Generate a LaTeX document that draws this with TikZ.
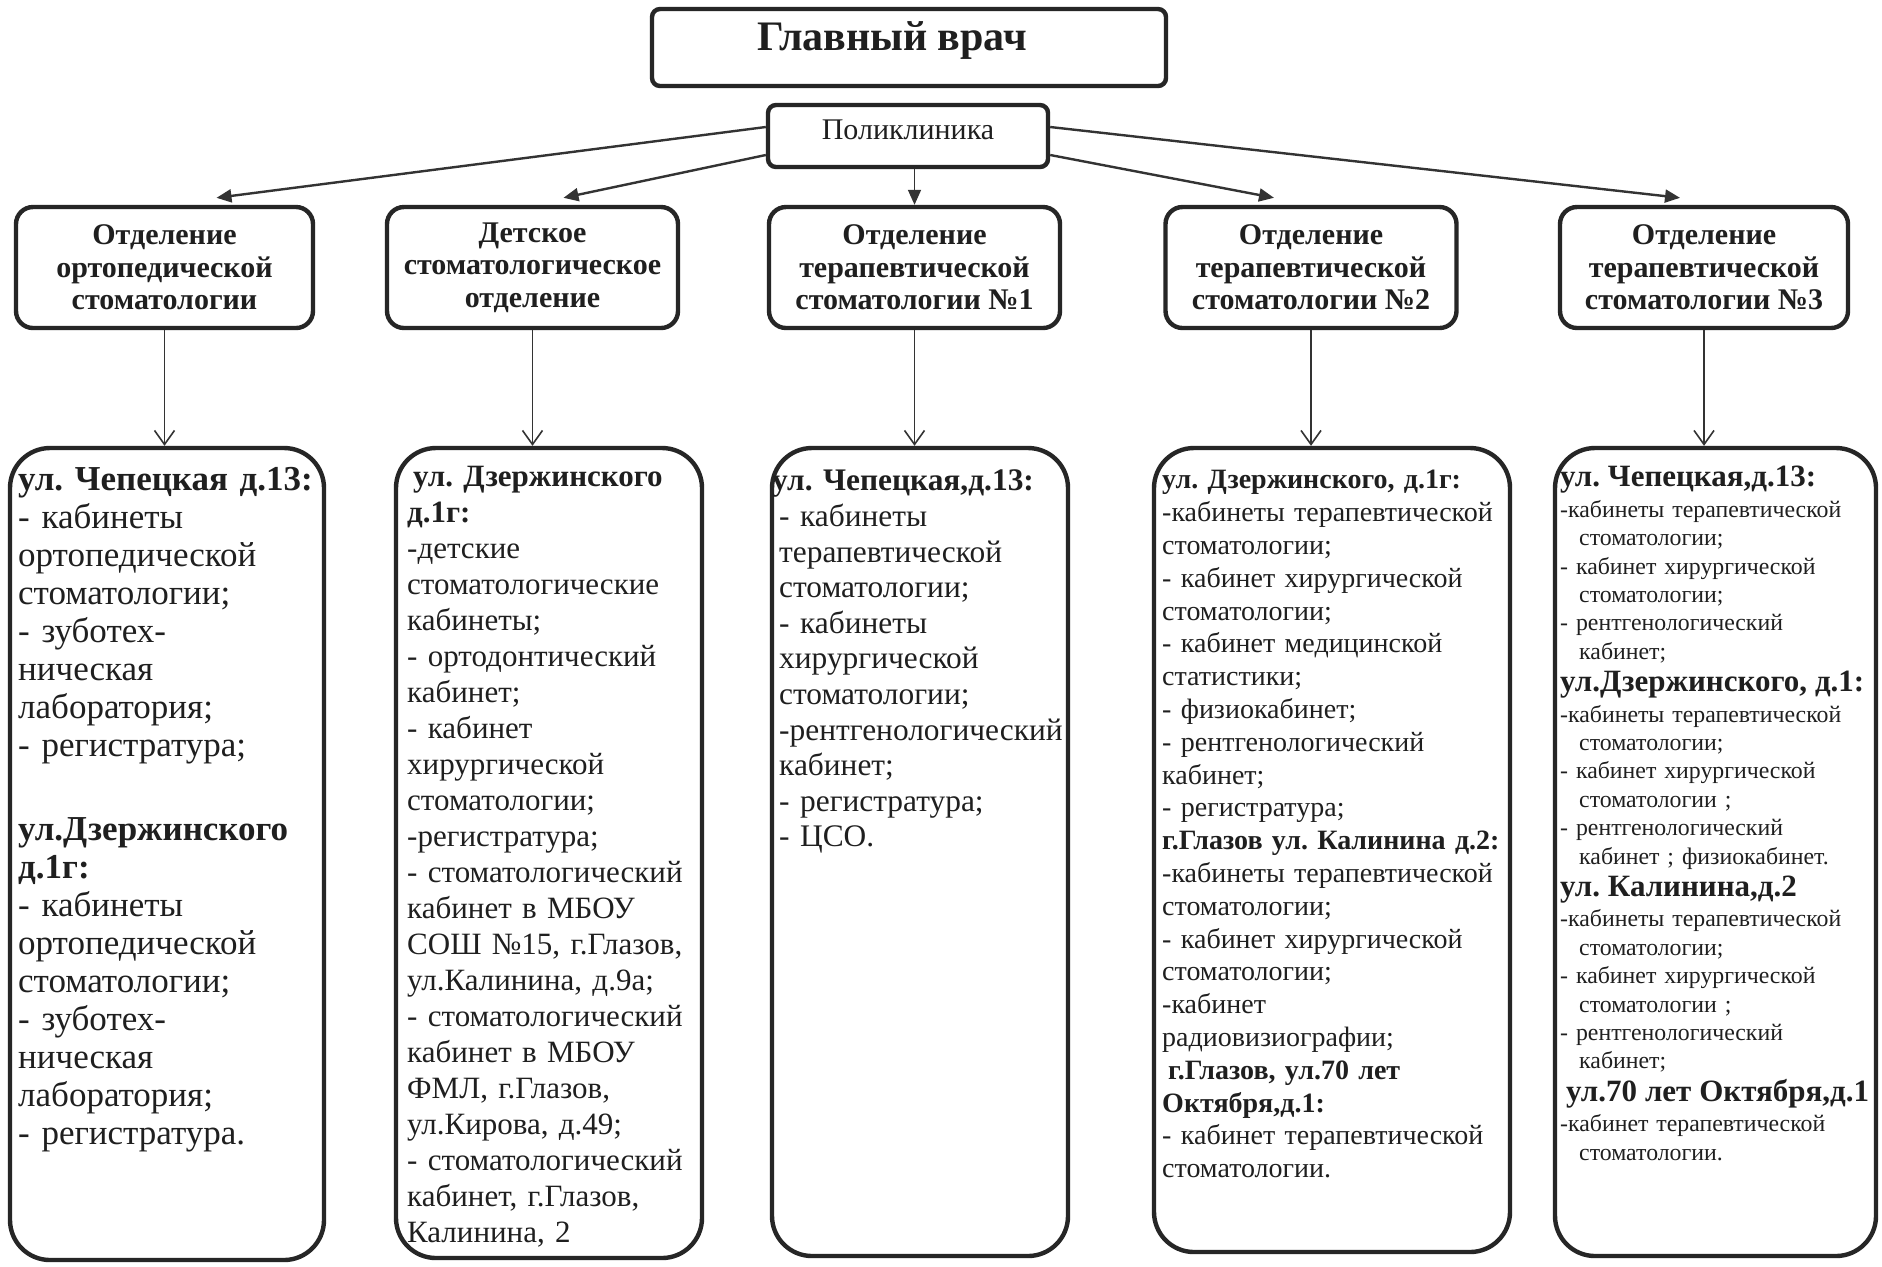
\documentclass[tikz,border=0pt]{standalone}
\usepackage{fontspec}
\setmainfont{Liberation Serif}
\usetikzlibrary{arrows.meta,calc}

\tikzset{
	box/.style={draw=black!85, line width=2.2pt, inner sep=0pt, align=center, text=black!88},
	chief/.style={box, rounded corners=4pt},
	clinic/.style={box, rounded corners=4pt},
	dept/.style={box, rounded corners=8.5pt, minimum width=145.5pt, minimum height=60.5pt, font=\bfseries\fontsize{15}{16.2}\selectfont},
	addr/.style={draw=black!85, line width=2.2pt, rounded corners=20pt, minimum width=#1, inner sep=0pt},
	list/.style={anchor=base west, inner sep=0pt, text width=200pt, align=left, text=black!88},
	uparrow/.style={draw=black!80, line width=1.2pt, -{Triangle[length=7.5pt, width=6.5pt]}},
	downarrow/.style={draw=black!80, line width=0.8pt, -{Straight Barb[length=7pt, width=10pt]}}
}

\begin{document}
\frenchspacing
\begin{tikzpicture}[x=0.5pt, y=-0.5pt]
			%%%%% START %%%%%
			\fill[white] (0,0) rectangle (1882,1266);
			\useasboundingbox (0,0) rectangle (1882,1266);
			
			\node[chief, minimum width=257pt, minimum height=38.5pt] (chief) at (909,47.5) {};
			\node[font=\bfseries\fontsize{21}{24}\selectfont, text=black!88] (chieftxt) at ($(chief.center)+(-17,-7)$) {Главный врач};
			\node[clinic, minimum width=140pt, minimum height=31pt] (poli) at (908,136) {};
			\node[font=\fontsize{15}{18}\selectfont, text=black!88] (politxt) at ($(poli.center)+(0,-6)$) {Поликлиника};
			
			\node[dept, minimum width=148.5pt] (dep1) at (164.5,267.5) {Отделение\\ортопедической\\стоматологии};
			\node[dept] (dep2) at (532.5,267.5) {Детское\\стоматологическое\\отделение};
			\node[dept] (dep3) at (914.5,267.5) {Отделение\\терапевтической\\стоматологии №1};
			\node[dept] (dep4) at (1311,267.5) {Отделение\\терапевтической\\стоматологии №2};
			\node[dept, minimum width=144pt] (dep5) at (1704,267.5) {Отделение\\терапевтической\\стоматологии №3};
			
			\draw[uparrow] ($(poli.west)+(0,-9)$) -- ($(dep1.north)+(52,-7)$);
			\draw[uparrow] ($(poli.west)+(0,19)$) -- ($(dep2.north)+(31,-7)$);
			\draw[uparrow, line width=0.8pt] (dep3.north |- poli.south) -- (dep3.north);
			\draw[uparrow] ($(poli.east)+(0,19)$) -- ($(dep4.north)+(-37,-7)$);
			\draw[uparrow] ($(poli.east)+(0,-9)$) -- ($(dep5.north)+(-24,-7)$);
			
			\node[addr=157pt, minimum height=406pt] (adr1) at (167,854) {};
			\node[addr=153pt, minimum height=405pt] (adr2) at (549,853) {};
			\node[addr=148pt, minimum height=404pt] (adr3) at (920,852) {};
			\node[addr=178pt, minimum height=402pt] (adr4) at (1332,850) {};
			\node[addr=160.5pt, minimum height=404pt] (adr5) at (1715.5,852) {};
			
			\draw[downarrow] (dep1.south) -- (dep1.south |- adr1.north);
			\draw[downarrow] (dep2.south) -- (dep2.south |- adr2.north);
			\draw[downarrow] (dep3.south) -- (dep3.south |- adr3.north);
			\draw[downarrow] (dep4.south) -- (dep4.south |- adr4.north);
			\draw[downarrow] (dep5.south) -- (dep5.south |- adr5.north);
			
			% addresses
			\node[list, font=\fontsize{17.5}{19}\selectfont] (txt1) at ($(adr1.north west)+(10,45)$) {\textbf{ул. Чепецкая д.13:}\\
				- кабинеты\\ ортопедической\\ стоматологии;\\ - зуботех-\\ ническая\\ лаборатория;\\ - регистратура;\\[23pt]
				\textbf{ул.Дзержинского}\\ \textbf{д.1г:}\\
				- кабинеты\\ ортопедической\\ стоматологии;\\ - зуботех-\\ ническая\\ лаборатория;\\ - регистратура.};
			
			\node[list, font=\fontsize{15.5}{18}\selectfont] (txt2) at ($(adr2.north west)+(13,41)$) {\textbf{\hspace*{3pt}ул. Дзержинского}\\ \textbf{д.1г:}\\
				-детские\\ стоматологические\\ кабинеты;\\ - ортодонтический\\ кабинет;\\ - кабинет\\ хирургической\\ стоматологии;\\ -регистратура;\\
				- стоматологический\\ кабинет в МБОУ\\ СОШ №15, г.Глазов,\\ ул.Калинина, д.9а;\\
				- стоматологический\\ кабинет в МБОУ\\ ФМЛ, г.Глазов,\\ ул.Кирова, д.49;\\
				- стоматологический\\ кабинет, г.Глазов,\\ Калинина, 2};
			
			\node[list, font=\fontsize{15.7}{17.8}\selectfont] (txt3) at ($(adr3.north west)+(9,45)$) {\textbf{\hspace*{-3.5pt}ул. Чепецкая,д.13:}\\
				- кабинеты\\ терапевтической\\ стоматологии;\\ - кабинеты\\ хирургической\\ стоматологии;\\
				-рентгенологический\\ кабинет;\\ - регистратура;\\ - ЦСО.};
			
			\node[list, font=\fontsize{14}{16.4}\selectfont] (txt4) at ($(adr4.north west)+(10,43)$) {\textbf{ул. Дзержинского, д.1г:}\\
				-кабинеты терапевтической\\ стоматологии;\\ - кабинет хирургической\\ стоматологии;\\ - кабинет медицинской\\ статистики;\\
				- физиокабинет;\\ - рентгенологический\\ кабинет;\\ - регистратура;\\
				\textbf{г.Глазов ул. Калинина д.2:}\\
				-кабинеты терапевтической\\ стоматологии;\\ - кабинет хирургической\\ стоматологии;\\ -кабинет\\ радиовизиографии;\\
				\textbf{\hspace*{3pt}г.Глазов, ул.70 лет}\\ \textbf{Октября,д.1:}\\
				- кабинет терапевтической\\ стоматологии.};
			
			\node[list, font=\fontsize{11.9}{14.2}\selectfont] (txt5) at ($(adr5.north west)+(7,41)$) {{\bfseries\fontsize{15.5}{16}\selectfont ул. Чепецкая,д.13:}\\[1pt]
				-кабинеты терапевтической\\ \hspace*{9.5pt}стоматологии;\\ - кабинет хирургической\\ \hspace*{9.5pt}стоматологии;\\ - рентгенологический\\ \hspace*{9.5pt}кабинет;\\[2pt]
				{\bfseries\fontsize{15.5}{16}\selectfont ул.Дзержинского, д.1:}\\[1pt]
				-кабинеты терапевтической\\ \hspace*{9.5pt}стоматологии;\\ - кабинет хирургической\\ \hspace*{9.5pt}стоматологии ;\\ - рентгенологический\\ \hspace*{9.5pt}кабинет ; физиокабинет.\\[2pt]
				{\bfseries\fontsize{15.5}{16}\selectfont ул. Калинина,д.2}\\[1pt]
				-кабинеты терапевтической\\ \hspace*{9.5pt}стоматологии;\\ - кабинет хирургической\\ \hspace*{9.5pt}стоматологии ;\\ - рентгенологический\\ \hspace*{9.5pt}кабинет;\\[2pt]
				{\bfseries\fontsize{15.5}{16}\selectfont\hspace*{3pt}ул.70 лет Октября,д.1}\\[1pt]
				-кабинет терапевтической\\ \hspace*{9.5pt}стоматологии.};
			
			%%%%% END %%%%%
		\end{tikzpicture}
\end{document}
